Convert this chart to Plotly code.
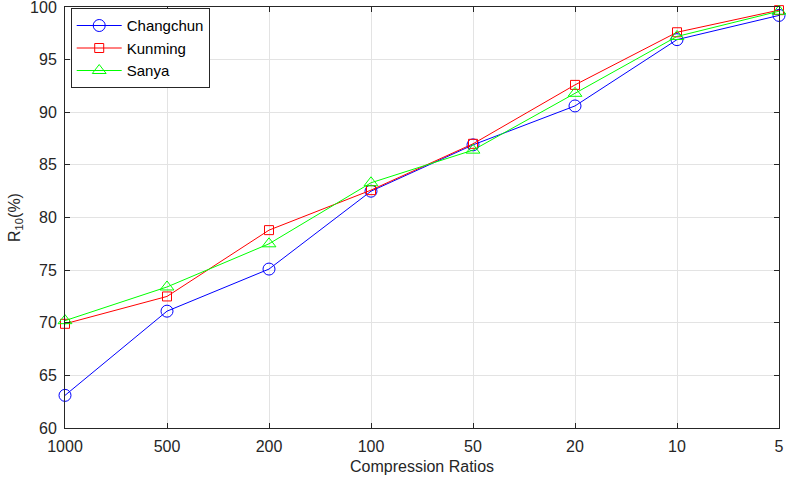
import plotly.graph_objects as go

ratios = ["1000", "500", "200", "100", "50", "20", "10", "5"]
changchun = [63.1, 71.1, 75.1, 82.5, 86.9, 90.6, 96.9, 99.2]
kunming = [69.9, 72.5, 78.8, 82.6, 87.0, 92.6, 97.6, 99.7]
sanya = [70.2, 73.4, 77.5, 83.3, 86.4, 91.8, 97.2, 99.6]
yticks = [60, 65, 70, 75, 80, 85, 90, 95, 100]

series = [
    ("Changchun", changchun, "#0000ff", "circle-open", 12),
    ("Kunming", kunming, "#ff0000", "square-open", 9),
    ("Sanya", sanya, "#00ff00", "triangle-up-open", 12),
]

fig = go.Figure()
for name, vals, col, sym, sz in series:
    fig.add_trace(go.Scatter(
        x=ratios, y=vals, name=name, mode="lines+markers",
        line=dict(color=col, width=1),
        marker=dict(symbol=sym, size=sz, color=col, line=dict(color=col, width=1)),
        cliponaxis=False,
    ))

axis_common = dict(
    showline=True, linecolor="#262626", linewidth=1, mirror="ticks",
    ticks="inside", ticklen=5, tickcolor="#262626",
    showgrid=True, gridcolor="#e3e3e3", gridwidth=1,
    zeroline=False, ticklabeloverflow="allow", automargin=False,
    tickfont=dict(family="Liberation Sans, Arial, sans-serif", size=16, color="#262626"),
)

fig.update_layout(
    width=786, height=480,
    margin=dict(l=65, r=7, t=7, b=52),
    plot_bgcolor="white", paper_bgcolor="white",
    font=dict(family="Liberation Sans, Arial, sans-serif", color="#262626"),
    showlegend=True,
    legend=dict(
        x=0.008, y=0.997, xanchor="left", yanchor="top",
        bgcolor="white", bordercolor="#262626", borderwidth=1,
        font=dict(size=15, color="#000000"),
        tracegroupgap=0, itemwidth=45,
    ),
    xaxis=dict(
        type="category", range=[0, 7],
        title=dict(text="Compression Ratios", font=dict(size=16, color="#262626"), standoff=6),
        ticklabelstandoff=4,
        **axis_common,
    ),
    yaxis=dict(
        range=[60, 100], tickmode="array", tickvals=yticks,
        ticktext=[str(v) for v in yticks],
        title=dict(text="R<sub>10</sub>(%)", font=dict(size=16, color="#262626"), standoff=5),
        ticklabelstandoff=4,
        **axis_common,
    ),
)

fig.write_html("out.html")
